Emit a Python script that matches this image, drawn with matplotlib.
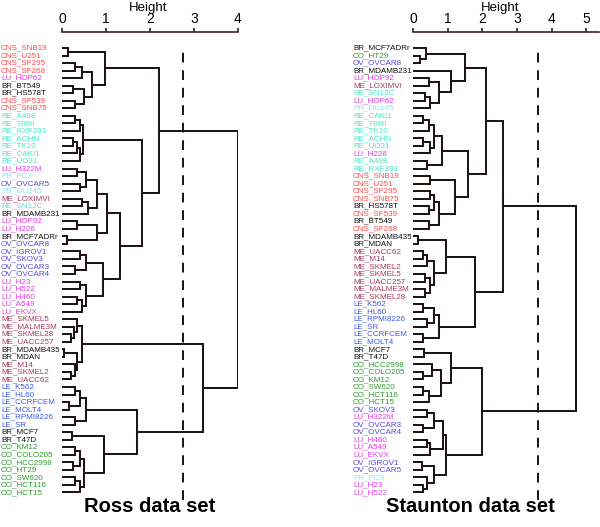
import matplotlib.pyplot as plt
from matplotlib.transforms import blended_transform_factory

plt.rcParams['font.family'] = ['Liberation Sans', 'DejaVu Sans']

# leaf labels, top to bottom
ross_labels = [
    'CNS_SNB19', 'CNS_U251', 'CNS_SF295', 'CNS_SF268', 'LU_HOP62', 'BR_BT549',
    'BR_HS578T', 'CNS_SF539', 'CNS_SNB75', 'RE_A498', 'RE_7860', 'RE_RXF393',
    'RE_ACHN', 'RE_TK10', 'RE_CAKI1', 'RE_UO31', 'LU_H322M', 'PR_PC3',
    'OV_OVCAR5', 'PR_DU145', 'ME_LOXIMVI', 'RE_SN12C', 'BR_MDAMB231', 'LU_HOP92',
    'LU_H226', 'BR_MCF7ADRr', 'OV_OVCAR8', 'OV_IGROV1', 'OV_SKOV3', 'OV_OVCAR3',
    'OV_OVCAR4', 'LU_H23', 'LU_H522', 'LU_H460', 'LU_A549', 'LU_EKVX',
    'ME_SKMEL5', 'ME_MALME3M', 'ME_SKMEL28', 'ME_UACC257', 'BR_MDAMB435', 'BR_MDAN',
    'ME_M14', 'ME_SKMEL2', 'ME_UACC62', 'LE_K562', 'LE_HL60', 'LE_CCRFCEM',
    'LE_MOLT4', 'LE_RPMI8226', 'LE_SR', 'BR_MCF7', 'BR_T47D', 'CO_KM12',
    'CO_COLO205', 'CO_HCC2998', 'CO_HT29', 'CO_SW620', 'CO_HCT116', 'CO_HCT15',
]
staunton_labels = [
    'BR_MCF7ADRr', 'CO_HT29', 'OV_OVCAR8', 'BR_MDAMB231', 'LU_HOP92', 'ME_LOXIMVI',
    'RE_SN12C', 'LU_HOP62', 'PR_DU145', 'RE_CAKI1', 'RE_7860', 'RE_TK10',
    'RE_ACHN', 'RE_UO31', 'LU_H226', 'RE_A498', 'RE_RXF393', 'CNS_SNB19',
    'CNS_U251', 'CNS_SF295', 'CNS_SNB75', 'BR_HS578T', 'CNS_SF539', 'BR_BT549',
    'CNS_SF268', 'BR_MDAMB435', 'BR_MDAN', 'ME_UACC62', 'ME_M14', 'ME_SKMEL2',
    'ME_SKMEL5', 'ME_UACC257', 'ME_MALME3M', 'ME_SKMEL28', 'LE_K562', 'LE_HL60',
    'LE_RPMI8226', 'LE_SR', 'LE_CCRFCEM', 'LE_MOLT4', 'BR_MCF7', 'BR_T47D',
    'CO_HCC2998', 'CO_COLO205', 'CO_KM12', 'CO_SW620', 'CO_HCT116', 'CO_HCT15',
    'OV_SKOV3', 'LU_H322M', 'OV_OVCAR3', 'OV_OVCAR4', 'LU_H460', 'LU_A549',
    'LU_EKVX', 'OV_IGROV1', 'OV_OVCAR5', 'PR_PC3', 'LU_H23', 'LU_H522',
]

# merge trees: (left, right, height), leaves are 1-based row numbers
ross_cns = ((1, 2, 0.14), (((3, 4, 0.3), 5, 0.45), ((6, 7, 0.25), (8, 9, 0.3), 0.5), 0.68), 0.98)
ross_re = (((10, 11, 0.3), 12, 0.4), (((13, 14, 0.25), 15, 0.35), 16, 0.42), 0.47)
ross_a = (((17, 18, 0.35), (19, 20, 0.4), 0.55), ((21, 22, 0.45), 23, 0.6), 0.8)
ross_b = ((24, 25, 0.35), (26, 27, 0.12), 0.8)
ross_ov = ((28, 29, 0.4), (30, 31, 0.3), 0.55)
ross_lu = ((32, 33, 0.4), ((34, 35, 0.35), 36, 0.45), 0.55)
ross_abc = ((ross_a, ross_b, 1.02), (ross_ov, ross_lu, 0.93), 1.32)
ross_top = (ross_cns, (ross_re, ross_abc, 1.82), 2.2)
ross_me = ((37, (38, (39, 40, 0.2), 0.28), 0.35), ((41, 42, 0.05), (43, (44, 45, 0.2), 0.3), 0.35), 0.45)
ross_le = (((46, 47, 0.3), (48, 49, 0.15), 0.4), (50, 51, 0.3), 0.55)
ross_brco = ((52, 53, 0.22), (((54, 55, 0.3), (56, 57, 0.25), 0.4), ((58, 59, 0.3), 60, 0.4), 0.5), 0.95)
ross_tree = (ross_top, (ross_me, (ross_le, ross_brco, 1.7), 3.2), 4.0)

st_a = ((1, (2, 3, 0.2), 0.38), (4, ((5, 6, 0.45), ((7, 8, 0.35), 9, 0.5), 0.75), 1.1), 1.5)
st_re = ((((10, 11, 0.3), 12, 0.45), ((13, 14, 0.3), 15, 0.5), 0.6), (16, 17, 0.4), 0.85)
st_cns = ((18, 19, 0.48), (((20, 21, 0.48), (22, 23, 0.45), 0.6), (24, 25, 0.45), 0.76), 1.2)
st_me = ((26, 27, 0.15), (((28, 29, 0.3), 30, 0.4), ((31, 32, 0.35), (33, 34, 0.35), 0.5), 0.6), 0.95)
st_le = (((35, 36, 0.3), (37, 38, 0.4), 0.6), (39, 40, 0.3), 0.75)
st_brco = ((41, 42, 0.33), ((43, (44, 45, 0.3), 0.55), ((46, 47, 0.3), 48, 0.45), 0.8), 1.1)
st_ovlu = ((((49, 50, 0.4), (51, 52, 0.3), 0.6), ((53, 54, 0.4), 55, 0.5), 0.86),
           ((56, 57, 0.25), (58, (59, 60, 0.3), 0.4), 0.6), 0.95)
st_top = ((st_a, (st_re, st_cns, 1.6), 2.1), (st_me, st_le, 1.8), 2.6)
st_bot = (st_brco, st_ovlu, 2.0)
staunton_tree = (st_top, st_bot, 4.7)

ross_cut = 2.75
staunton_cut = 3.62

colors = {'CNS': '#ff4a4a', 'LU': '#e33ee3', 'BR': '#111111', 'RE': '#4fe3c8',
          'PR': '#8ce4f0', 'OV': '#5a48e0', 'ME': '#a83a5c', 'LE': '#3d5ae6',
          'CO': '#2e9a2e'}

W, H = 600, 527
LINE = '#1a1010'


def draw_node(ax, node):
    if isinstance(node, int):
        return node - 1, 0.0
    left, right, h = node
    y1, h1 = draw_node(ax, left)
    y2, h2 = draw_node(ax, right)
    ax.plot([h1, h, h, h2], [y1, y1, y2, y2], color=LINE, lw=1.4,
            solid_capstyle='butt', solid_joinstyle='miter')
    return (y1 + y2) / 2, h


def panel(x0, x1, xmax, ticks, labels, tree, cut, label_x, title, title_x, height_x):
    ax = fig.add_axes([x0 / W, 1 - 500 / H, (x1 - x0) / W, (500 - 32) / H])
    draw_node(ax, tree)
    ax.axvline(cut, ymin=0.0, ymax=0.97, color=LINE, lw=1.4, ls=(0, (5, 4)))
    ax.set_xlim(0, xmax)
    ax.set_ylim(60.0, -2.12)
    for s in ['left', 'right', 'bottom']:
        ax.spines[s].set_visible(False)
    ax.spines['top'].set_color('#3a2424')
    ax.spines['top'].set_linewidth(1.2)
    ax.spines['top'].set_bounds(0, xmax)
    ax.xaxis.tick_top()
    ax.set_xticks(ticks)
    ax.tick_params(axis='x', direction='out', length=3, width=1.2, color='#3a2424',
                   labelsize=10, pad=1)
    ax.set_yticks([])
    ax.patch.set_visible(False)
    fig.text(height_x / W, 1 - 7.5 / H, 'Height', ha='center', va='center', fontsize=9.5)
    tr = blended_transform_factory(fig.transFigure, ax.transData)
    for i, lab in enumerate(labels):
        ax.text(label_x / W, i, lab, transform=tr, ha='left', va='center',
                fontsize=5.8, color=colors[lab.split('_')[0]])
    fig.text(title_x / W, 1 - 506 / H, title, ha='center', va='center',
             fontsize=14.5, fontweight='bold')
    return ax


fig = plt.figure(figsize=(W / 100, H / 100), dpi=100)
panel(62, 238, 4.0, [0, 1, 2, 3, 4], ross_labels, ross_tree, ross_cut, 1,
      'Ross data set', 150, 148)
panel(413, 599, 5.37, [0, 1, 2, 3, 4, 5], staunton_labels, staunton_tree, staunton_cut, 353,
      'Staunton data set', 470, 500)
fig.savefig('out.png', dpi=100)
